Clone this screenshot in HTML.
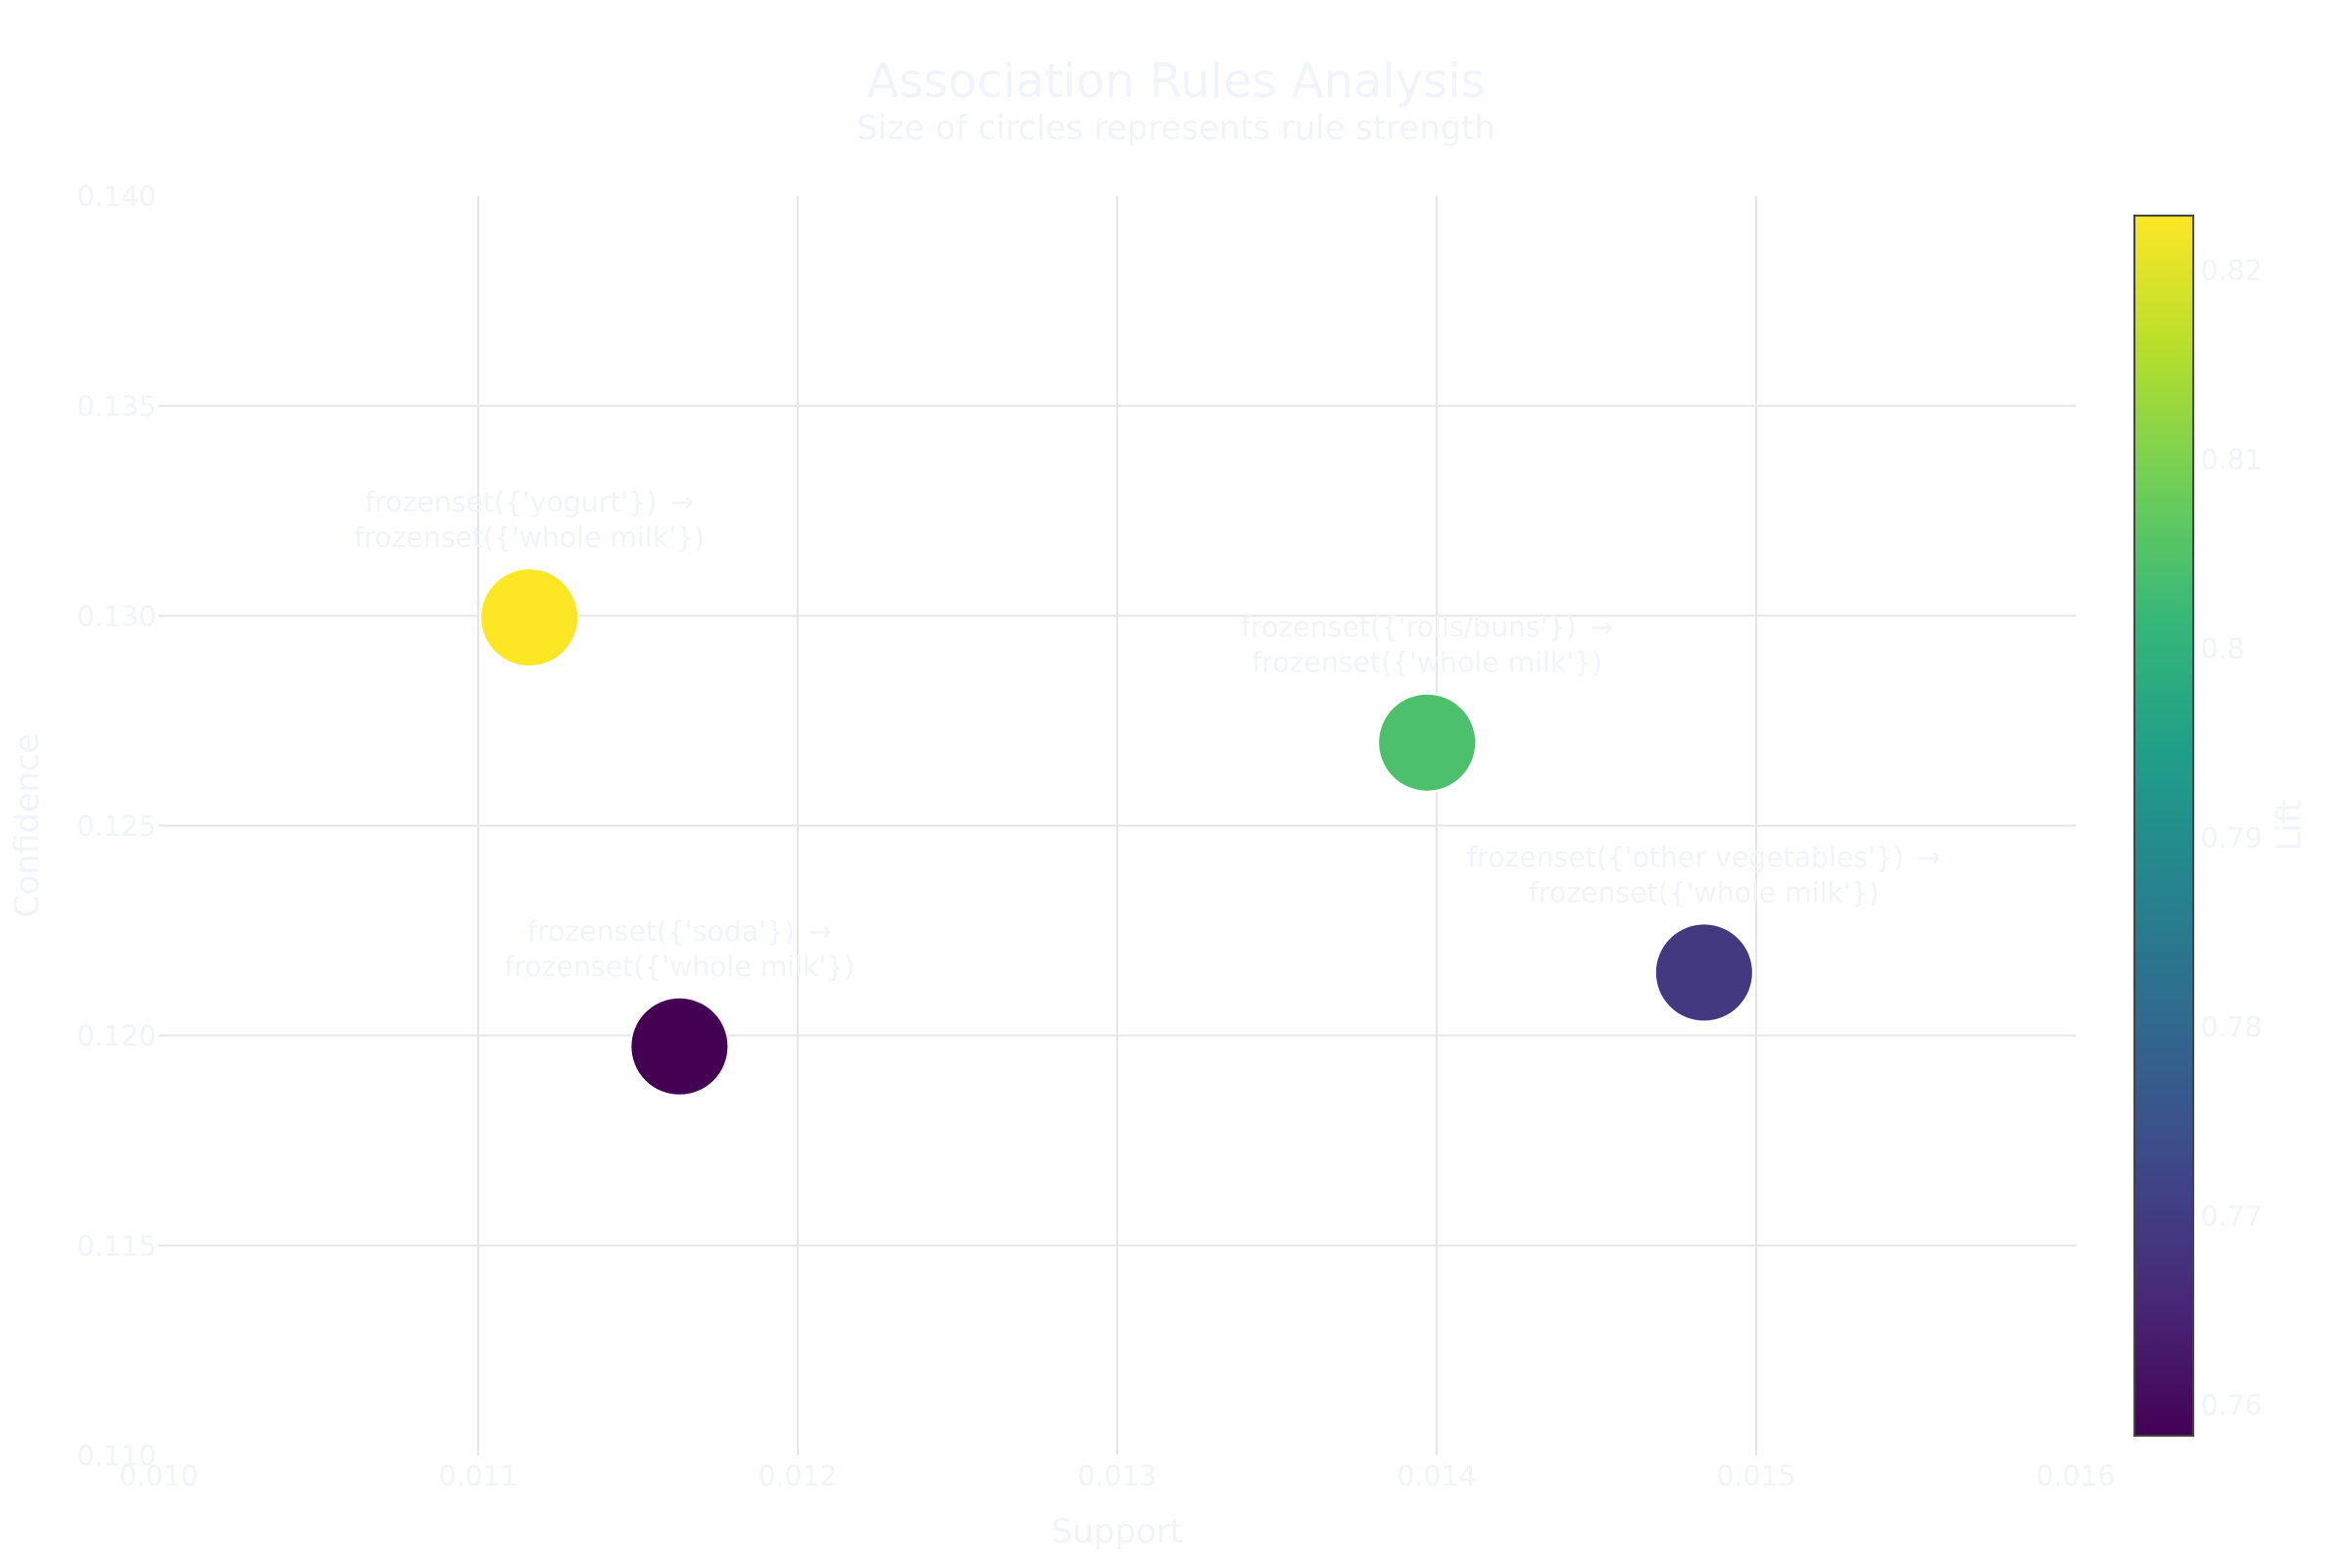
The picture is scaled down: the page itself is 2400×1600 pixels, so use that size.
<!DOCTYPE html>
<html lang="en">
<head>
<meta charset="utf-8">
<title>Association Rules Analysis</title>
<style>
html,body{margin:0;padding:0;background:#fff;}
svg{display:block;}
text{font-family:"DejaVu Sans","Liberation Sans",sans-serif;fill:#f1f4fa;}
</style>
</head>
<body>
<svg id="chart" xmlns="http://www.w3.org/2000/svg" width="2400" height="1600" viewBox="0 0 2400 1600">
  <rect x="0" y="0" width="2400" height="1600" fill="#ffffff"/>
  <g id="grid"></g>
  <g id="xticks"></g>
  <g id="yticks"></g>
  <g id="points"></g>
  <g id="labels"></g>
  <g id="colorbar"></g>
  <text x="1200" y="99" font-size="48" text-anchor="middle">Association Rules Analysis</text>
  <text x="1200" y="142" font-size="33.85" text-anchor="middle">Size of circles represents rule strength</text>
  <text x="1140" y="1574" font-size="34" text-anchor="middle">Support</text>
  <text x="0" y="0" font-size="33.5" text-anchor="middle" transform="translate(39 842.5) rotate(-90)">Confidence</text>
  <text x="0" y="0" font-size="34" text-anchor="middle" transform="translate(2347.5 842) rotate(-90)">Lift</text>
</svg>
<script>
const antecedents = ["yogurt", "rolls/buns", "other vegetables", "soda"];
const consequents = ["whole milk", "whole milk", "whole milk", "whole milk"];
const support = [0.01116, 0.01397, 0.014837, 0.01163];
const confidence = [0.12996, 0.12698, 0.1215, 0.11974];
const lift = [0.8229, 0.8043, 0.7692, 0.7584];
const xTickValues = [0.010, 0.011, 0.012, 0.013, 0.014, 0.015, 0.016];
const yTickValues = [0.110, 0.115, 0.120, 0.125, 0.130, 0.135, 0.140];
const liftTickValues = [0.76, 0.77, 0.78, 0.79, 0.80, 0.81, 0.82];
const liftTickLabels = ["0.76", "0.77", "0.78", "0.79", "0.8", "0.81", "0.82"];
const viridis = ["#440154", "#482878", "#3e4989", "#31688e", "#26828e", "#1f9e89", "#35b779", "#6ece58", "#b5de2b", "#fde725"];

const SVGNS = "http://www.w3.org/2000/svg";
const plot = { left: 162, right: 2118, top: 200, bottom: 1485 };
const xDomain = [0.010, 0.016];
const yDomain = [0.110, 0.140];
const liftDomain = [0.7584, 0.8229];
const bar = { left: 2178, right: 2238, top: 220, bottom: 1465 };

function xScale(v) { return plot.left + (v - xDomain[0]) / (xDomain[1] - xDomain[0]) * (plot.right - plot.left); }
function yScale(v) { return plot.bottom - (v - yDomain[0]) / (yDomain[1] - yDomain[0]) * (plot.bottom - plot.top); }
function liftScale(v) { return bar.bottom - (v - liftDomain[0]) / (liftDomain[1] - liftDomain[0]) * (bar.bottom - bar.top); }
function hexToRgb(h) { return [1, 3, 5].map(function (i) { return parseInt(h.substr(i, 2), 16); }); }
function liftColor(v) {
  let t = (v - liftDomain[0]) / (liftDomain[1] - liftDomain[0]);
  t = Math.max(0, Math.min(1, t)) * (viridis.length - 1);
  const i = Math.min(Math.floor(t), viridis.length - 2);
  const a = hexToRgb(viridis[i]);
  const b = hexToRgb(viridis[i + 1]);
  const f = t - i;
  return "rgb(" + a.map(function (c, k) { return Math.round(c + (b[k] - c) * f); }).join(",") + ")";
}
function make(tag, attrs, parent) {
  const el = document.createElementNS(SVGNS, tag);
  Object.keys(attrs).forEach(function (k) { el.setAttribute(k, attrs[k]); });
  parent.appendChild(el);
  return el;
}

const grid = document.getElementById("grid");
const xticks = document.getElementById("xticks");
const yticks = document.getElementById("yticks");
const points = document.getElementById("points");
const labels = document.getElementById("labels");
const colorbar = document.getElementById("colorbar");

xTickValues.forEach(function (v, i) {
  if (i > 0 && i < xTickValues.length - 1) {
    const line = make("line", { x1: xScale(v), x2: xScale(v), y1: plot.top, y2: plot.bottom, stroke: "#e6e6e6", "stroke-width": 2 }, grid);
    
    
  }
  const t = make("text", { x: xScale(v), y: plot.bottom + 31, "font-size": 28.3, "text-anchor": "middle" }, xticks);
  t.textContent = v.toFixed(3);
  
  
});

yTickValues.forEach(function (v, i) {
  if (i > 0 && i < yTickValues.length - 1) {
    const line = make("line", { x1: plot.left, x2: plot.right, y1: yScale(v), y2: yScale(v), stroke: "#e6e6e6", "stroke-width": 2 }, grid);
    
    
  }
  const t = make("text", { x: 159.5, y: yScale(v) + 10.5, "font-size": 28.3, "text-anchor": "end" }, yticks);
  t.textContent = v.toFixed(3);
  
  
});

support.forEach(function (s, i) {
  const cx = xScale(s);
  const cy = yScale(confidence[i]);
  const c = make("circle", { cx: cx, cy: cy, r: 50, fill: liftColor(lift[i]), stroke: "#ffffff", "stroke-width": 2 }, points);
  
  
  const line1 = make("text", { x: cx, y: cy - 108, "font-size": 28.3, "text-anchor": "middle" }, labels);
  line1.textContent = "frozenset({'" + antecedents[i] + "'}) ";
  
  
  const arrow = make("tspan", { dx: 5 }, line1);
  arrow.textContent = "\u2192";
  
  
  const line2 = make("text", { x: cx, y: cy - 72, "font-size": 28.3, "text-anchor": "middle" }, labels);
  line2.textContent = "frozenset({'" + consequents[i] + "'})";
  
  
});

const defs = make("defs", {}, colorbar);
const grad = make("linearGradient", { id: "viridis-gradient", x1: 0, y1: 1, x2: 0, y2: 0 }, defs);
viridis.forEach(function (col, i) {
  make("stop", { offset: i / (viridis.length - 1), "stop-color": col }, grad);
});
const barRect = make("rect", { x: bar.left, y: bar.top, width: bar.right - bar.left, height: bar.bottom - bar.top, fill: "url(#viridis-gradient)", stroke: "#444444", "stroke-width": 2 }, colorbar);



liftTickValues.forEach(function (v, i) {
  const t = make("text", { x: 2245.5, y: liftScale(v) + 9.8, "font-size": 28.3, "text-anchor": "start" }, colorbar);
  t.textContent = liftTickLabels[i];
  
  
});
</script>
</body>
</html>
